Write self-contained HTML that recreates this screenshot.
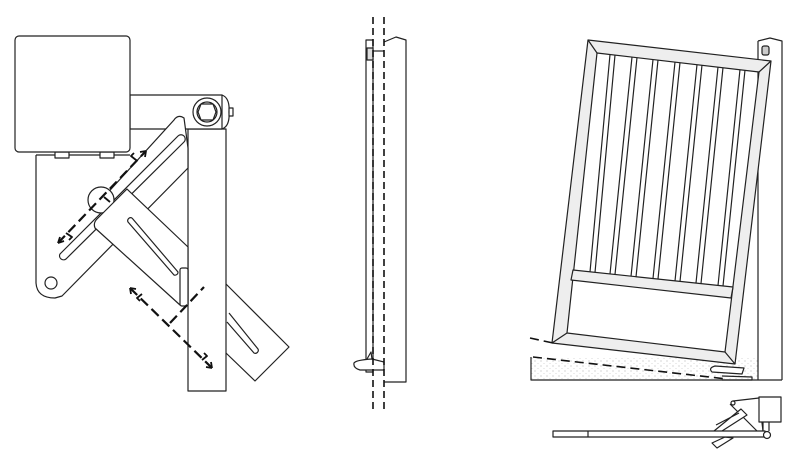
<!DOCTYPE html>
<html><head><meta charset="utf-8"><style>html,body{margin:0;padding:0;background:#fff}svg{display:block}</style></head>
<body>
<svg width="800" height="453" viewBox="0 0 800 453" xmlns="http://www.w3.org/2000/svg" fill="none" stroke="#222" stroke-width="1.2" stroke-linejoin="round">
<defs>
<pattern id="st" width="6" height="5" patternUnits="userSpaceOnUse">
<rect width="6" height="5" fill="#fff" stroke="none"/>
<circle cx="1" cy="1" r="0.6" fill="#bbb" stroke="none"/>
<circle cx="4" cy="3.5" r="0.5" fill="#ccc" stroke="none"/>
</pattern>
</defs>
<!-- LEFT DETAIL -->
<path d="M226,284 L289,347 L255,381 L226,353" fill="#fff"/>
<path d="M229,313 L258,349 A3,3 0 0 1 254,353 L227,322" />
<rect x="188" y="129" width="38" height="262" fill="#fff"/>
<rect x="130" y="95" width="92" height="34" fill="#fff"/>
<path d="M222,95 Q230,98 229,112 Q230,126 222,129"/>
<rect x="229" y="108" width="4" height="8" fill="#fff"/>
<circle cx="207" cy="112" r="14" fill="#fff"/>
<circle cx="207" cy="112" r="10"/>
<polygon points="201,104 213,104 216,112 213,120 201,120 198,112"/>
<path d="M36,155 L36,283 Q37,298 55,298 L62,296 L188,168 L188,148 L184,118 Q178,114 174,120 L92,210" fill="#fff"/>
<path d="M36,155 L130,155"/>
<path d="M60,254 A4,4 0 0 0 66,259 L184,142 A4,4 0 0 0 178,136 Z" fill="#fff"/>
<circle cx="51" cy="283" r="6"/>
<rect x="55" y="152" width="14" height="6" fill="#fff"/>
<rect x="100" y="152" width="14" height="6" fill="#fff"/>
<rect x="15" y="36" width="115" height="116" rx="4" fill="#fff"/>
<circle cx="101" cy="200" r="13" fill="#fff"/>
<path d="M127,189 L188,247 L188,305 L180,305 L95,228 Q93,223 97,219 Z" fill="#fff"/>
<path d="M132,218 L178,272 A3,3 0 0 1 174,275 L128,222 A3,3 0 0 1 132,218" fill="#fff"/>
<rect x="180" y="268" width="8" height="38" rx="2" fill="#fff"/>
<g stroke="#111" stroke-width="2.2" stroke-dasharray="10,5">
<line x1="58" y1="243" x2="146" y2="151"/>
<line x1="130" y1="288" x2="212" y2="368"/>
<line x1="170" y1="323" x2="204" y2="287"/>
</g>
<g stroke="#111" stroke-width="1.8">
<path d="M58,243 l2,-6 M58,243 l6,-2"/>
<path d="M146,151 l-6,1 M146,151 l-1,6"/>
<path d="M130,288 l6,1 M130,288 l1,6"/>
<path d="M212,368 l-6,-1 M212,368 l-1,-6"/>
<path d="M66,233 l6,4 l-3,3 M136,160 l-5,-4 l3,-3 M142,294 l-5,4 l3,3 M202,360 l5,-4 l-3,-3"/>
<path d="M104,197 l6,5"/>
</g>
<!-- MIDDLE SIDE VIEW -->
<path d="M384,42 L396,37 L406,40 L406,382 L384,382" fill="#fff"/>
<rect x="366" y="40" width="7" height="332" fill="#fff"/>
<rect x="367" y="48" width="6" height="12" fill="#ddd"/>
<path d="M373,51 L384,51"/>
<path d="M354,363 Q356,360 372,359 L384,362 L384,370 L360,370 Q353,368 354,363Z" fill="#fff"/>
<path d="M367,359 L371,352 L372,359"/>
<g stroke="#111" stroke-width="1.6" stroke-dasharray="7,4">
<line x1="373" y1="17" x2="373" y2="413"/>
<line x1="384" y1="17" x2="384" y2="413"/>
</g>
<!-- RIGHT GATE -->
<rect x="531" y="357" width="227" height="23" fill="url(#st)" stroke="none"/>
<path d="M531,357 L531,380 L782,380"/>
<path d="M758,41 L770,38 L782,41 L782,380 M758,41 L758,380" fill="#fff"/>
<rect x="762" y="46" width="7" height="9" rx="2" fill="#ccc"/>
<path fill="#eee" fill-rule="evenodd" d="M588,40 L771,61 L735,364 L552,343 Z M597,53 L567,333 L725,352 L759,72 Z"/>
<path d="M588,40 L597,53 M771,61 L759,72 M735,364 L725,352 M552,343 L567,333"/>
<path d="M573,270 L733,287 L731,298 L571,280 Z" fill="#eee"/>
<g>
<path d="M610,54.5 L590,272 M615,55 L595,272.5"/>
<path d="M632,57 L610,274 M637,57.5 L615,274.5"/>
<path d="M653,59.5 L631,276.5 M658,60 L636,277"/>
<path d="M675,62 L653,278.5 M680,62.5 L658,279"/>
<path d="M697,64.5 L675,281 M702,65 L680,281.5"/>
<path d="M718,67 L696,283 M723,67.5 L701,283.5"/>
<path d="M740,69.5 L718,285.5 M745,70 L723,286"/>
</g>
<path d="M715,366 Q708,368 712,372 L742,374 L744,368 Z" fill="#fff"/>
<path d="M722,376 L752,377 L752,380 L722,380"/>
<g stroke="#111" stroke-width="1.6" stroke-dasharray="9,5">
<line x1="530" y1="338" x2="553" y2="343"/>
<line x1="533" y1="357" x2="727" y2="379"/>
</g>
<!-- plan view -->
<path d="M733,401 L759,398 M730,404 L757,431 M759,398 L763,431"/>
<circle cx="733" cy="403" r="2"/>
<path d="M714,431 L741,409 L747,415 L722,431 M716,425 L739,413" fill="#fff"/>
<path d="M717,448 L712,443 L725,437 L733,438 Z" fill="#fff"/>
<rect x="759" y="397" width="22" height="25" fill="#fff"/>
<path d="M763,422 L763,431 M769,422 L769,431"/>
<rect x="553" y="431" width="212" height="6" fill="#fff"/>
<line x1="588" y1="431" x2="588" y2="437"/>
<circle cx="767" cy="435" r="3.5" fill="#fff"/>
</svg>
</body></html>
